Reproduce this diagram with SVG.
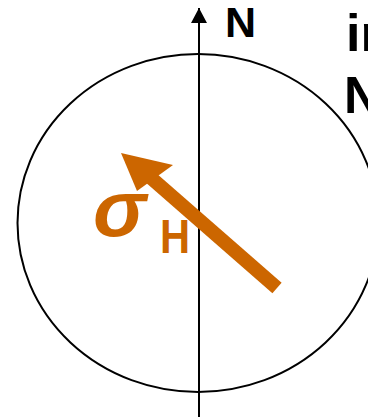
<svg xmlns="http://www.w3.org/2000/svg" width="368" height="417" viewBox="0 0 368 417">
<style>
.blk{font-family:"Liberation Sans",Arial,sans-serif;font-weight:bold;fill:#000}
.org{font-family:"Liberation Sans",Arial,sans-serif;font-weight:bold;fill:#CC6600}
</style>
<defs>
<marker id="ah" markerWidth="15" markerHeight="16" refX="15" refY="8" markerUnits="userSpaceOnUse" orient="auto" viewBox="0 0 15 16">
<path d="M0 0 L15 8 L0 16 Z" fill="#000"/>
</marker>
</defs>
<rect width="368" height="417" fill="#fff"/>
<g id="circle">
<ellipse cx="198" cy="223" rx="180.5" ry="169" fill="none" stroke="#000" stroke-width="2"/>
</g>
<g id="connectors">
<line x1="199" y1="417" x2="199" y2="8" stroke="#000" stroke-width="2" marker-end="url(#ah)"/>
</g>
<g id="north-label">
<text class="blk" x="225" y="37" font-size="43">N</text>
</g>
<g id="side-text">
<text class="blk" x="346" y="51" font-size="52">in</text>
<text class="blk" x="344" y="113" font-size="51">N</text>
</g>
<g id="stress-arrow">
<line x1="277" y1="288" x2="150" y2="177" stroke="#CC6600" stroke-width="14"/>
<path d="M121 153 L173 165 L137 191 Z" fill="#CC6600"/>
<text class="org" x="93" y="236" font-size="80" font-style="italic">σ</text>
<text class="org" transform="translate(160 253) scale(0.85 1)" x="0" y="0" font-size="49">H</text>
</g>
</svg>
